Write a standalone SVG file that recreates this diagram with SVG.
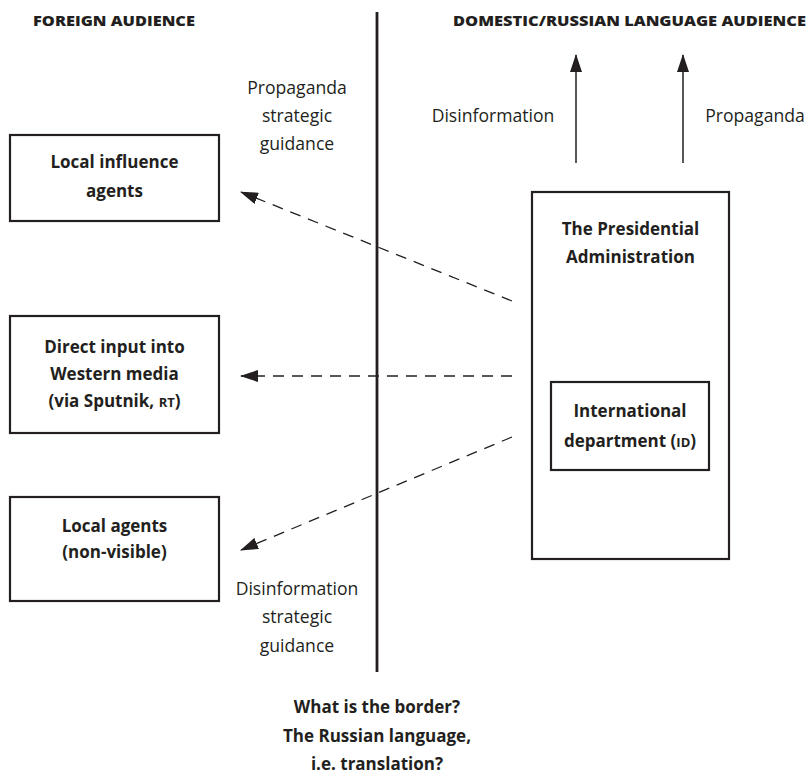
<svg xmlns="http://www.w3.org/2000/svg" width="808" height="774" viewBox="0 0 808 774">
<style>
.box{fill:#fff;stroke:#231f20;stroke-width:2.2}
.b{font-family:"Open Sans","Noto Sans",sans-serif;font-weight:700;font-size:17px;fill:#231f20;text-anchor:middle}
.r{font-family:"Open Sans","Noto Sans",sans-serif;font-weight:400;font-size:17.6px;fill:#231f20;text-anchor:middle}
.h{font-family:"Open Sans","Noto Sans",sans-serif;font-weight:800;font-size:14px;fill:#231f20}
.dash{stroke:#231f20;stroke-width:1.3;stroke-dasharray:11 8;fill:none}
.solid{stroke:#231f20;stroke-width:1.5;fill:none}
.sc{font-size:13px}
</style>
<defs>
<marker id="ah" viewBox="0 0 18 12" refX="17" refY="6" markerWidth="18" markerHeight="12" markerUnits="userSpaceOnUse" orient="auto">
<path d="M0,0 L18,6 L0,12 Z" fill="#231f20"/>
</marker>
</defs>
<g id="headers">
<text class="h" x="33" y="26" textLength="162" lengthAdjust="spacingAndGlyphs">FOREIGN AUDIENCE</text>
<text class="h" x="453" y="26" textLength="353" lengthAdjust="spacingAndGlyphs">DOMESTIC/RUSSIAN LANGUAGE AUDIENCE</text>
</g>
<g id="border">
<line x1="377" y1="12" x2="377" y2="672" stroke="#231f20" stroke-width="2.8"/>
</g>
<g id="local-influence-agents">
<rect class="box" x="10" y="135" width="209" height="86"/>
<text class="b" x="114.5" y="168">Local influence</text>
<text class="b" x="114.5" y="197">agents</text>
</g>
<g id="direct-input">
<rect class="box" x="10" y="316" width="209" height="117"/>
<text class="b" x="114.5" y="353">Direct input into</text>
<text class="b" x="114.5" y="380">Western media</text>
<text class="b" x="114.5" y="407">(via Sputnik, <tspan class="sc">RT</tspan>)</text>
</g>
<g id="local-agents">
<rect class="box" x="10" y="497" width="209" height="104"/>
<text class="b" x="114.5" y="532">Local agents</text>
<text class="b" x="114.5" y="558">(non-visible)</text>
</g>
<g id="presidential-administration">
<rect class="box" x="532" y="192" width="197" height="367"/>
<text class="b" x="630.5" y="235">The Presidential</text>
<text class="b" x="630.5" y="263">Administration</text>
</g>
<g id="international-department">
<rect class="box" x="551" y="382" width="158" height="88" stroke-width="1.6"/>
<text class="b" x="630" y="417">International</text>
<text class="b" x="630" y="447">department (<tspan class="sc">ID</tspan>)</text>
</g>
<g id="connectors">
<line class="dash" x1="512" y1="301" x2="241" y2="192" marker-end="url(#ah)"/>
<line class="dash" x1="512" y1="376" x2="241" y2="376" marker-end="url(#ah)"/>
<line class="dash" x1="512" y1="437" x2="241" y2="550" marker-end="url(#ah)"/>
<line class="solid" x1="576" y1="163" x2="576" y2="55" marker-end="url(#ah)"/>
<line class="solid" x1="683" y1="163" x2="683" y2="55" marker-end="url(#ah)"/>
</g>
<g id="labels">
<text class="r" x="297" y="94">Propaganda</text>
<text class="r" x="297" y="122">strategic</text>
<text class="r" x="297" y="150">guidance</text>
<text class="r" x="297" y="595">Disinformation</text>
<text class="r" x="297" y="623">strategic</text>
<text class="r" x="297" y="652">guidance</text>
<text class="r" x="493" y="122">Disinformation</text>
<text class="r" x="755" y="122">Propaganda</text>
<text class="b" x="377" y="713">What is the border?</text>
<text class="b" x="377" y="742">The Russian language,</text>
<text class="b" x="377" y="770">i.e. translation?</text>
</g>
</svg>
